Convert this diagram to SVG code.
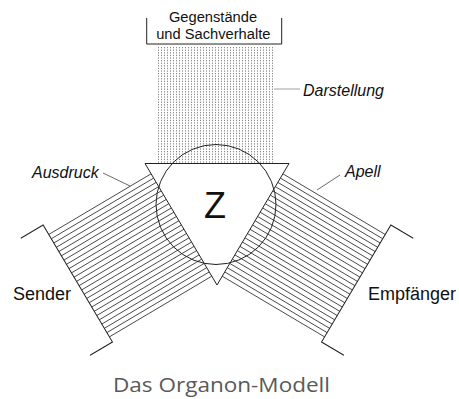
<svg xmlns="http://www.w3.org/2000/svg" width="459" height="399" viewBox="0 0 459 399">
<style>
.ln{fill:none;stroke:#222;stroke-width:1}
.hatch{fill:none;stroke:#333;stroke-width:0.8}
.dot{fill:none;stroke:#555;stroke-width:0.7;stroke-dasharray:1.3 1.3}
.lead{fill:none;stroke:#444;stroke-width:0.8}
.t{font-family:"Liberation Sans",Arial,sans-serif;fill:#111}
.it{font-family:"Liberation Sans",Arial,sans-serif;font-style:italic;font-size:16px;fill:#111}
</style>
<defs>
<g id="band">
<path class="hatch" d="M12 0V119M16.96 0V119M21.92 0V119M26.88 0V119M31.83 0V119M36.79 0V119M41.75 0V119M46.71 0V119M51.67 0V119M56.63 0V119M61.58 0V119M66.54 0V119M71.5 0V119M76.46 0V119M81.42 0V119M86.38 0V119M91.33 0V119M96.29 0V119M101.25 0V119M106.21 0V119M111.17 0V119M116.13 0V119M121.08 0V119M126.04 0V119M131 0V119"/>
<path class="ln" d="M1 145V119H137V145"/>
</g>
</defs>
<rect width="459" height="399" fill="#fff"/>
<g id="connectors">
<g id="band-sender" transform="translate(145,163.5) rotate(59.35)"><use href="#band"/></g>
<g id="band-empfaenger" transform="translate(434,0) scale(-1,1)"><g transform="translate(145,163.5) rotate(59.35)"><use href="#band"/></g></g>
<g id="band-darstellung">
<path class="dot" d="M158.5 47V163M161.5 47V163M164.5 47V163M167.5 47V163M170.5 47V163M173.5 47V163M176.5 47V163M179.5 47V163M182.5 47V163M185.5 47V163M188.5 47V163M191.5 47V163M194.5 47V163M197.5 47V163M200.5 47V163M203.5 47V163M206.5 47V163M209.5 47V163M212.5 47V163M215.5 47V163M218.5 47V163M221.5 47V163M224.5 47V163M227.5 47V163M230.5 47V163M233.5 47V163M236.5 47V163M239.5 47V163M242.5 47V163M245.5 47V163M248.5 47V163M251.5 47V163M254.5 47V163M257.5 47V163M260.5 47V163M263.5 47V163M266.5 47V163M269.5 47V163M272.5 47V163"/>
</g>
<path class="lead" d="M103 173L130 186"/>
<path class="lead" d="M317 190L340 175"/>
<path class="lead" style="stroke:#888" d="M274 89H300"/>
</g>
<g id="z">
<polygon class="ln" style="fill:#fff" points="145,163.5 289,163.5 217,285"/>
<circle class="ln" cx="216" cy="204.5" r="60"/>
<text class="t" x="215" y="218" font-size="36" text-anchor="middle">Z</text>
</g>
<g id="gegenstaende">
<path class="ln" d="M146.7 18V44H281.7V18"/>
<text class="t" x="213" y="21.5" font-size="14.7" text-anchor="middle">Gegenstände</text>
<text class="t" x="213.3" y="38.5" font-size="14.7" text-anchor="middle">und Sachverhalte</text>
</g>
<g id="sender"><text class="t" x="13" y="300" font-size="18">Sender</text></g>
<g id="empfaenger"><text class="t" x="368" y="300" font-size="18">Empfänger</text></g>
<g id="labels">
<text class="it" x="32" y="178">Ausdruck</text>
<text class="it" x="345" y="177">Apell</text>
<text class="it" x="303" y="96">Darstellung</text>
</g>
<text x="113" y="392" font-family="'Open Sans','Noto Sans',sans-serif" font-size="20" fill="#595959" textLength="217" lengthAdjust="spacingAndGlyphs">Das Organon-Modell</text>
</svg>
